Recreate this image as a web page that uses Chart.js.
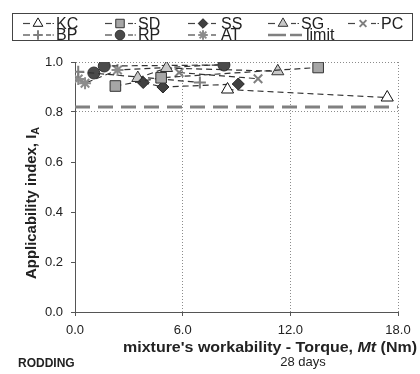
<!DOCTYPE html>
<html>
<head>
<meta charset="utf-8">
<script src="https://cdn.jsdelivr.net/npm/chart.js@4.4.1/dist/chart.umd.min.js"></script>
<style>
  html, body { margin: 0; padding: 0; background: #fff; }
</style>
</head>
<body>
<canvas id="chart" width="420" height="374"></canvas>
<script>
// values (torque Mt in Nm, applicability index I_A)
const kcTorque = [8.5, 17.4];
const kcIndex = [0.89, 0.858];
const sdTorque = [2.25, 4.8, 13.55];
const sdIndex = [0.904, 0.937, 0.978];
const ssTorque = [3.8, 4.9, 9.1];
const ssIndex = [0.918, 0.9, 0.912];
const sgTorque = [3.5, 5.1, 11.3];
const sgIndex = [0.936, 0.976, 0.963];
const pcTorque = [5.8, 10.2];
const pcIndex = [0.958, 0.933];
const bpTorque = [0.18, 6.96];
const bpIndex = [0.961, 0.918];
const rpTorque = [1.05, 1.63, 8.3];
const rpIndex = [0.956, 0.984, 0.988];
const atTorque = [0.18, 0.56, 2.37, 8.3];
const atIndex = [0.932, 0.915, 0.968, 0.99];
const limitValue = 0.82;

const xTicks = [0, 6, 12, 18];
const yTicks = [0, 0.2, 0.4, 0.6, 0.8, 1.0];
const yGridAt = [0.8, 1.0];

const pts = (xs, ys) => xs.map((x, i) => ({ x: x, y: ys[i] }));

function series(label, xs, ys, style, fill, stroke, radius, bw, dotted) {
    return {
        label: label,
        data: pts(xs, ys),
        showLine: true,
        borderColor: '#333',
        borderWidth: 1.2,
        borderDash: [6, 4],
        pointStyle: style,
        pointBackgroundColor: fill,
        pointBorderColor: stroke,
        pointRadius: radius,
        pointBorderWidth: bw,
        legendDot: dotted,
        order: 1
    };
}

const datasets = [
    series('KC', kcTorque, kcIndex, 'triangle', '#fff', '#111', 7, 1, true),
    series('SD', sdTorque, sdIndex, 'rect', '#a6a6a6', '#333', 7.5, 1, true),
    series('SS', ssTorque, ssIndex, 'rectRot', '#404040', '#222', 6, 1, false),
    series('SG', sgTorque, sgIndex, 'triangle', '#c8c8c8', '#333', 7, 1, true),
    series('PC', pcTorque, pcIndex, 'crossRot', '#7f7f7f', '#7f7f7f', 6, 2, true),
    series('BP', bpTorque, bpIndex, 'cross', '#7f7f7f', '#7f7f7f', 6, 2, true),
    series('RP', rpTorque, rpIndex, 'circle', '#4a4a4a', '#333', 6, 1, true),
    series('AT', atTorque, atIndex, 'star', '#8c8c8c', '#8c8c8c', 6, 2, false),
    {
        label: 'limit',
        data: [{ x: xTicks[0], y: limitValue }, { x: xTicks[xTicks.length - 1], y: limitValue }],
        showLine: true,
        borderColor: '#808080',
        borderWidth: 3,
        borderDash: [15, 8],
        pointRadius: 0,
        order: 2
    }
];

// legend box drawn by hand so the rows sit like the original
const legendCols = [23, 105, 188, 268, 348];
const legendRows = [23.5, 35];

function line(ctx, xa, xb, y) {
    ctx.beginPath();
    ctx.moveTo(xa, y);
    ctx.lineTo(xb, y);
    ctx.stroke();
}

const legendPlugin = {
    id: 'boxLegend',
    afterDraw(chart) {
        const ctx = chart.ctx;
        ctx.save();
        ctx.strokeStyle = '#444';
        ctx.lineWidth = 1;
        ctx.strokeRect(12.5, 13.5, 400, 27);
        chart.data.datasets.forEach((ds, i) => {
            const row = i < 5 ? 0 : 1;
            const x0 = legendCols[i < 5 ? i : i - 5];
            const y = legendRows[row];
            ctx.save();
            ctx.strokeStyle = ds.label === 'limit' ? '#808080' : '#444';
            if (ds.label === 'limit') {
                ctx.lineWidth = 2.5;
                line(ctx, x0, x0 + 18, y);
                line(ctx, x0 + 22, x0 + 34, y);
            } else {
                ctx.lineWidth = 1.2;
                line(ctx, x0, x0 + 7, y);
                line(ctx, x0 + 23, x0 + 28, y);
                if (ds.legendDot) line(ctx, x0 + 29.5, x0 + 31, y);
            }
            ctx.restore();
            if (ds.pointRadius > 0) {
                ctx.save();
                ctx.fillStyle = ds.pointBackgroundColor;
                ctx.strokeStyle = ds.pointBorderColor;
                ctx.lineWidth = ds.pointBorderWidth;
                Chart.helpers.drawPoint(ctx, {
                    pointStyle: ds.pointStyle,
                    radius: ds.pointRadius * 0.8,
                    rotation: 0,
                    borderWidth: ds.pointBorderWidth
                }, x0 + 15, y);
                ctx.restore();
            }
            ctx.fillStyle = '#222';
            ctx.font = '16px "Liberation Sans", Arial, sans-serif';
            ctx.textBaseline = 'middle';
            ctx.fillText(ds.label, x0 + (ds.label === 'limit' ? 38 : 33), y + 1);
        });
        ctx.restore();
    }
};

// draws pieces of text side by side, stretched to a target width
function fitText(ctx, parts, cx, cy, target) {
    let w = 0;
    parts.forEach(p => { ctx.font = p[1]; w += ctx.measureText(p[0]).width; });
    ctx.save();
    ctx.translate(cx, cy);
    ctx.scale(target / w, 1);
    let x = -w / 2;
    parts.forEach(p => {
        ctx.font = p[1];
        ctx.fillText(p[0], x, p[2] || 0);
        x += ctx.measureText(p[0]).width;
    });
    ctx.restore();
}

const textPlugin = {
    id: 'extraText',
    afterDraw(chart) {
        const ctx = chart.ctx;
        const fam = '"Liberation Sans", Arial, sans-serif';
        ctx.save();
        ctx.fillStyle = '#222';
        ctx.textBaseline = 'middle';

        const bold = 'bold 14px ' + fam;
        fitText(ctx, [["mixture's workability - Torque, ", bold], ['Mt', 'italic ' + bold], [' (Nm)', bold]], 270, 348, 294);

        ctx.save();
        ctx.translate(32, 203);
        ctx.rotate(-Math.PI / 2);
        fitText(ctx, [['Applicability index, I', bold], ['A', 'bold 10px ' + fam, 4]], 0, 0, 152);
        ctx.restore();

        ctx.font = 'bold 12px ' + fam;
        ctx.fillText('RODDING', 18, 364);
        ctx.font = '13px ' + fam;
        ctx.textAlign = 'center';
        ctx.fillText('28 days', 303, 362);
        ctx.restore();
    }
};

const tickFont = { family: '"Liberation Sans", Arial, sans-serif', size: 13 };

new Chart(document.getElementById('chart'), {
    type: 'scatter',
    data: { datasets: datasets },
    options: {
        responsive: false,
        animation: false,
        layout: { padding: { top: 62, right: 22, left: 0, bottom: 0 } },
        plugins: {
            legend: { display: false },
            tooltip: { enabled: false }
        },
        scales: {
            x: {
                type: 'linear',
                min: xTicks[0],
                max: xTicks[xTicks.length - 1],
                afterBuildTicks: s => { s.ticks = xTicks.map(v => ({ value: v })); },
                afterFit: s => { s.height = 62; },
                ticks: {
                    font: tickFont,
                    color: '#222',
                    padding: 7,
                    callback: v => v.toFixed(1)
                },
                grid: { color: '#8c8c8c', lineWidth: 1, tickLength: 4, tickColor: '#555', tickBorderDash: [] },
                border: { color: '#555', width: 1, dash: [1, 2] }
            },
            y: {
                min: yTicks[0],
                max: yTicks[yTicks.length - 1],
                afterBuildTicks: s => { s.ticks = yTicks.map(v => ({ value: v })); },
                afterFit: s => { s.width = 75; },
                ticks: {
                    font: tickFont,
                    color: '#222',
                    padding: 8,
                    callback: v => v.toFixed(1)
                },
                grid: {
                    color: c => (c.tick && yGridAt.some(g => Math.abs(g - c.tick.value) < 1e-6)) ? '#8c8c8c' : 'rgba(0,0,0,0)',
                    lineWidth: 1,
                    tickLength: 4,
                    tickColor: '#555',
                    tickBorderDash: []
                },
                border: { color: '#555', width: 1, dash: [1, 2] }
            }
        }
    },
    plugins: [legendPlugin, textPlugin]
});
</script>
</body>
</html>
